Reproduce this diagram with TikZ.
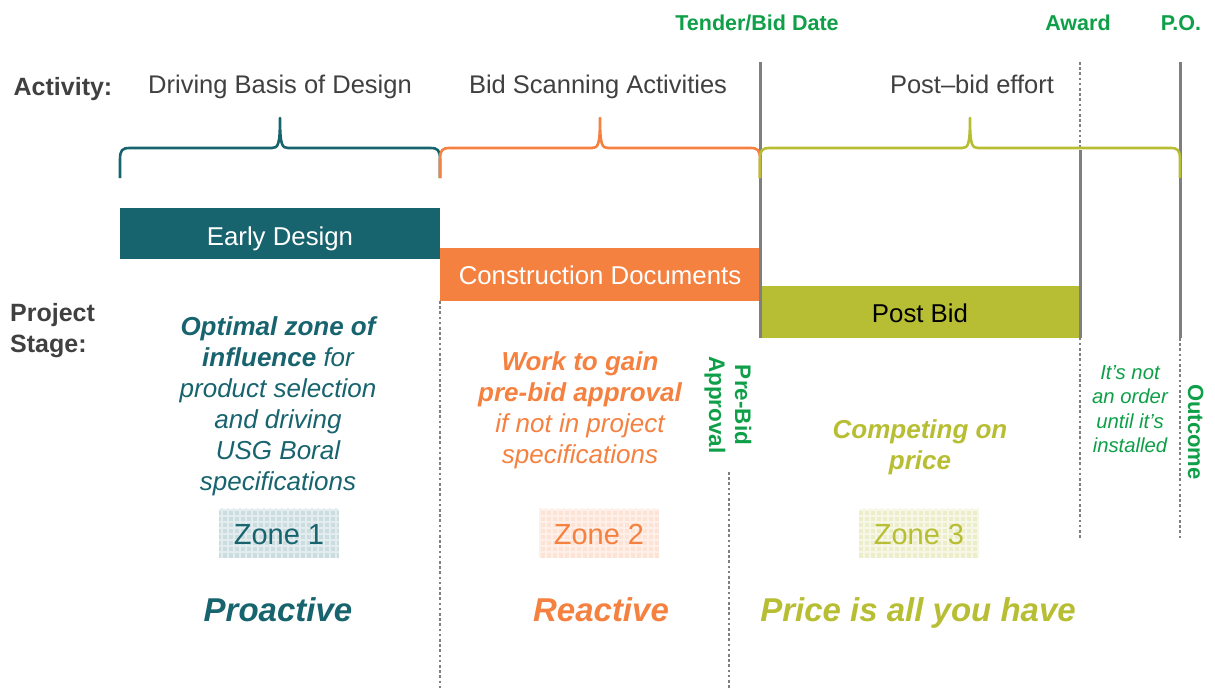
\documentclass[tikz,border=0pt]{standalone}
\usepackage{fontspec}
\setmainfont{Liberation Sans}
\definecolor{teal1}{HTML}{17636E}
\definecolor{orange1}{HTML}{F58140}
\definecolor{olive1}{HTML}{B7BE33}
\definecolor{green1}{HTML}{0E9F48}
\definecolor{gray1}{HTML}{404040}
\definecolor{line1}{HTML}{7F7F7F}
\begin{document}
\begin{tikzpicture}[x=1pt,y=-1pt,
  caps/.style={text height=#1,text depth=0pt,inner sep=0pt},
  lbl/.style={caps=17.9pt,text=gray1,font=\fontsize{25}{31}\selectfont\bfseries},
  act/.style={caps=18.3pt,text=gray1,font=\fontsize{25.5}{31}\selectfont},
  mile/.style={caps=15.4pt,text=green1,font=\fontsize{21.5}{26}\selectfont\bfseries},
  stagebox/.style={inner sep=0pt},
  stagetxt/.style={caps=18.5pt,font=\fontsize{25.8}{31}\selectfont},
  brace/.style={line width=2.6pt,line join=round},
  solidln/.style={draw=line1,line width=3pt},
  dotln/.style={draw=line1,line width=2.6pt,dash pattern=on 2.6pt off 2.6pt},
  zonebox/.style={minimum width=120pt,minimum height=49pt,inner sep=0pt},
  zonetxt/.style={caps=20.8pt,font=\fontsize{29}{34}\selectfont},
  big/.style={caps=23.6pt,font=\fontsize{33}{38}\selectfont\bfseries\itshape},
  desc/.style={align=center,font=\fontsize{26}{31}\selectfont\itshape}
]
\useasboundingbox (0,0) rectangle (1215,688);

% stage boxes
\node[stagebox,fill=teal1,minimum width=320pt,minimum height=51pt,anchor=north west] (early) at (120,208) {};
\node[stagebox,fill=orange1,minimum width=320pt,minimum height=53pt,anchor=north west] (cd) at (440,248) {};
\node[stagebox,fill=olive1,minimum width=320pt,minimum height=52pt,anchor=north west] (pb) at (760,286) {};
\node[stagetxt,text=white] (earlyt) at (280,236) {Early Design};
\node[stagetxt,text=white] (cdt) at (600,275) {Construction Documents};
\node[stagetxt,text=black] (pbt) at (920,313) {Post Bid};

% vertical lines
\draw[solidln] (760,62) -- (760,338);
\draw[dotln] (440,301) -- (440,688);
\draw[dotln] (729,472) -- (729,688);
\draw[dotln] (1080,62) -- (1080,540);
\draw[solidln] (1080,150) -- (1080,338);
\draw[solidln] (1180,62) -- (1180,338);
\draw[dotln] (1180,338) -- (1180,540);

% braces
\draw[brace,teal1] (120,178) -- (120,160) .. controls (120,150) and (122,148) .. (130,148) -- (272,148) .. controls (278,148) and (280,145) .. (280,118) .. controls (280,145) and (282,148) .. (288,148) -- (430,148) .. controls (438,148) and (440,150) .. (440,160) -- (440,178);
\draw[brace,orange1] (440,178) -- (440,160) .. controls (440,150) and (442,148) .. (450,148) -- (592,148) .. controls (598,148) and (600,145) .. (600,118) .. controls (600,145) and (602,148) .. (608,148) -- (750,148) .. controls (758,148) and (760,150) .. (760,160) -- (760,178);
\draw[brace,olive1] (760,178) -- (760,160) .. controls (760,150) and (762,148) .. (770,148) -- (962,148) .. controls (968,148) and (970,145) .. (970,118) .. controls (970,145) and (972,148) .. (978,148) -- (1170,148) .. controls (1178,148) and (1180,150) .. (1180,160) -- (1180,178);

% headings
\node[lbl] (activity) at (63,87) {Activity:};
\node[lbl,anchor=west] (stage1) at (10,313) {Project};
\node[lbl,anchor=west] (stage2) at (10,344) {Stage:};
\node[act] (a1) at (280,84) {Driving Basis of Design};
\node[act] (a2) at (598,84) {Bid Scanning Activities};
\node[act] (a3) at (972,84) {Post–bid effort};

% milestones
\node[mile] (tender) at (757,23) {Tender/Bid Date};
\node[mile] (award) at (1078,23) {Award};
\node[mile] (po) at (1181,23) {P.O.};

% descriptions
\node[desc,text=teal1] (d1) at (278,406) {\textbf{Optimal zone of}\\\textbf{influence} for\\product selection\\and driving\\USG Boral\\specifications};
\node[desc,text=orange1] (d2) at (580,410) {\textbf{Work to gain}\\\textbf{pre-bid approval}\\if not in project\\specifications};
\node[desc,text=olive1,font=\fontsize{26}{31}\selectfont\bfseries\itshape] (d3) at (920,447) {Competing on\\price};
\node[desc,text=green1,font=\fontsize{20.3}{24.5}\selectfont\itshape] (d4) at (1130,409) {It’s not\\an order\\until it’s\\installed};
\node[rotate=-90,align=center,text=green1,inner sep=0pt,font=\fontsize{22.5}{26}\selectfont\bfseries] (preb) at (728,405) {Pre-Bid\\Approval};
\node[rotate=-90,text=green1,caps=15.75pt,font=\fontsize{22}{26}\selectfont\bfseries] (outc) at (1196,432) {Outcome};

% zones
\node[zonebox,fill=teal1!22] (z1) at (279,533) {};
\node[zonebox,fill=orange1!22] (z2) at (599,533) {};
\node[zonebox,fill=olive1!26] (z3) at (919,533) {};
\foreach \n/\c in {z1/teal1,z2/orange1,z3/olive1}{
  \begin{scope}
    \clip (\n.south west) rectangle (\n.north east);
    \draw[\c!12,line width=2.2pt,step=6pt] (\n.south west) grid (\n.north east);
  \end{scope}
}
\node[zonetxt,text=teal1] (z1t) at (279,534) {Zone 1};
\node[zonetxt,text=orange1] (z2t) at (599,534) {Zone 2};
\node[zonetxt,text=olive1] (z3t) at (919,534) {Zone 3};

% bottom words
\node[big,text=teal1] (pro) at (278,610) {Proactive};
\node[big,text=orange1] (rea) at (601,610) {Reactive};
\node[big,text=olive1] (pri) at (918,610) {Price is all you have};
\end{tikzpicture}
\end{document}
